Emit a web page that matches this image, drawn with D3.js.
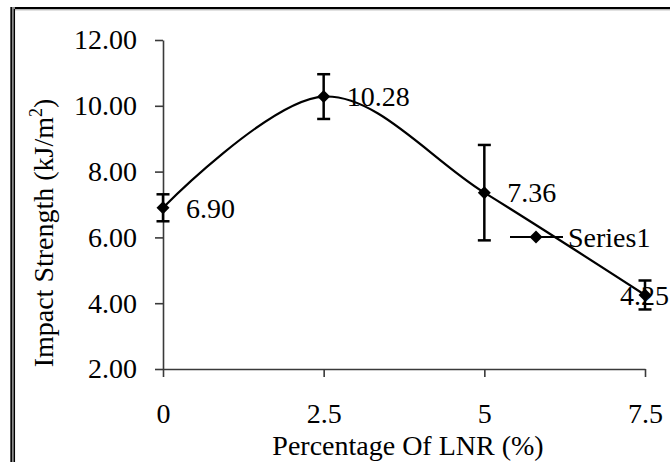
<!DOCTYPE html>
<html>
<head>
<meta charset="utf-8">
<script src="https://cdn.jsdelivr.net/npm/d3@7"></script>
<style>
  html, body { margin: 0; padding: 0; background: #fff; }
  svg { display: block; }
  svg text { font-family: "Liberation Serif", Tinos, "Times New Roman", Times, "DejaVu Serif", serif !important; fill: #000; }
</style>
</head>
<body>
<svg id="chart" width="670" height="462"></svg>
<script>
// ---- data ----
const xValues = [0, 2.5, 5, 7.5];
const impactStrength = [6.90, 10.28, 7.36, 4.25];
const errorValues = [0.41, 0.68, 1.45, 0.44];
const xTickValues = [0, 2.5, 5, 7.5];
const yTickValues = [2, 4, 6, 8, 10, 12];
const seriesName = "Series1";
const xTitle = "Percentage Of LNR (%)";

const W = 670, H = 462;
const svg = d3.select("#chart");
const fontSize = 28;
const serif = '"Liberation Serif", Tinos, "Times New Roman", Times, "DejaVu Serif", serif';

// frame
svg.append("line").attr("x1", 10).attr("x2", W).attr("y1", 8).attr("y2", 8)
  .attr("stroke", "#000").attr("stroke-width", 2.2);
svg.append("line").attr("x1", 12).attr("x2", W).attr("y1", 9.8).attr("y2", 9.8)
  .attr("stroke", "#999").attr("stroke-width", 1);
svg.append("rect").attr("x", 10).attr("y", 7).attr("width", 5).attr("height", H)
  .attr("fill", "#8a8a8a");
svg.append("line").attr("x1", 11.3).attr("x2", 11.3).attr("y1", 7).attr("y2", H)
  .attr("stroke", "#000").attr("stroke-width", 1.3);
svg.append("line").attr("x1", 14.4).attr("x2", 14.4).attr("y1", 9).attr("y2", H)
  .attr("stroke", "#000").attr("stroke-width", 1.3);

// scales
const x = d3.scaleLinear().domain([0, 7.5]).range([163, 645]);
const y = d3.scaleLinear().domain([2, 12]).range([369, 40]);

// axes
const yAxis = svg.append("g").attr("transform", `translate(${x(0)},0)`)
  .call(d3.axisLeft(y).tickValues(yTickValues).tickFormat(d3.format(".2f"))
    .tickSize(8).tickSizeOuter(0).tickPadding(18));
const xAxis = svg.append("g").attr("transform", `translate(0,${y(2)})`)
  .call(d3.axisBottom(x).tickValues(xTickValues).tickFormat(d => d3.format("")(d))
    .tickSize(8).tickSizeOuter(0).tickPadding(26));
[yAxis, xAxis].forEach(g => {
  g.attr("font-family", serif);
  g.select(".domain").attr("stroke", "#3a3a3a").attr("stroke-width", 1.6);
  g.selectAll(".tick line").attr("stroke", "#3a3a3a").attr("stroke-width", 1.6);
  g.selectAll(".tick text").attr("font-family", serif)
    .style("font-size", fontSize + "px").attr("fill", "#000");
});

// axis titles
svg.append("text").attr("x", 408).attr("y", 455).attr("text-anchor", "middle")
  .attr("font-family", serif).style("font-size", fontSize + "px").text(xTitle);
const yt = svg.append("text").attr("transform", "translate(53,233) rotate(-90)")
  .attr("text-anchor", "middle").attr("font-family", serif).style("font-size", fontSize + "px");
yt.append("tspan").text("Impact Strength (kJ/m");
yt.append("tspan").attr("dy", -11).style("font-size", "18px").text("2");
yt.append("tspan").attr("dy", 11).text(")");

const data = xValues.map((v, i) => ({ x: v, y: impactStrength[i], e: errorValues[i] }));

// smoothed line
const line = d3.line().x(d => x(d.x)).y(d => y(d.y)).curve(d3.curveCardinal.tension(0));
svg.append("path").datum(data).attr("d", line)
  .attr("fill", "none").attr("stroke", "#000").attr("stroke-width", 2.2);

// error bars
const eb = svg.append("g").attr("stroke", "#000").attr("stroke-width", 2.5);
data.forEach(d => {
  eb.append("line").attr("x1", x(d.x)).attr("x2", x(d.x))
    .attr("y1", y(d.y + d.e)).attr("y2", y(d.y - d.e));
  [d.y + d.e, d.y - d.e].forEach(v => {
    eb.append("line").attr("x1", x(d.x) - 6.5).attr("x2", x(d.x) + 6.5)
      .attr("y1", y(v)).attr("y2", y(v));
  });
});

// markers
const diamond = "M0,-6.5L6.5,0L0,6.5L-6.5,0Z";
svg.append("g").selectAll("path").data(data).join("path")
  .attr("d", diamond).attr("transform", d => `translate(${x(d.x)},${y(d.y)})`)
  .attr("fill", "#000");

// data labels
svg.append("g").selectAll("text").data(data).join("text")
  .attr("x", d => x(d.x) + 23).attr("y", d => y(d.y)).attr("dy", "0.35em")
  .attr("font-family", serif).style("font-size", fontSize + "px")
  .text(d => d3.format(".2f")(d.y))
  .each(function () {
    const t = d3.select(this);
    const w = this.getComputedTextLength();
    const xx = +t.attr("x");
    if (xx + w > W - 1) t.attr("x", W - 1 - w);
  });

// legend
const lg = svg.append("g").attr("transform", "translate(510,237)");
lg.append("line").attr("x1", 0).attr("x2", 53).attr("y1", 0).attr("y2", 0)
  .attr("stroke", "#000").attr("stroke-width", 2.2);
lg.append("path").attr("d", diamond).attr("transform", "translate(26,0)").attr("fill", "#000");
lg.append("text").attr("x", 58).attr("y", 0).attr("dy", "0.35em")
  .attr("font-family", serif).style("font-size", fontSize + "px").text(seriesName);
</script>
</body>
</html>
